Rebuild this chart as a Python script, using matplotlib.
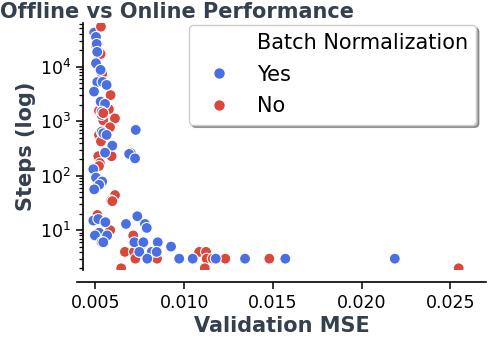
import matplotlib
matplotlib.use("Agg")
import matplotlib.pyplot as plt
from matplotlib.lines import Line2D
import numpy as np

# Batch Normalization = "Yes"
yes_mse = [0.00493, 0.00503, 0.00507, 0.00510, 0.00503, 0.00529, 0.00510, 0.00540,
           0.00563, 0.00492, 0.00529, 0.00554, 0.00535, 0.00535, 0.00727, 0.00535,
           0.00544, 0.00563, 0.00595, 0.00554, 0.00700, 0.00690, 0.00723, 0.00488,
           0.00503, 0.00538, 0.00521, 0.00493, 0.00488, 0.00516, 0.00556, 0.00672,
           0.00736, 0.00779, 0.00789, 0.00521, 0.00497, 0.00566, 0.00535, 0.00544,
           0.00719, 0.00770, 0.00851, 0.00926, 0.00747, 0.00817, 0.00845, 0.00792,
           0.00972, 0.01048, 0.01178, 0.01343, 0.01570, 0.02187]
yes_steps = [42000, 35000, 26000, 18600, 11500, 8700, 5200, 5240,
             4600, 3480, 2280, 2070, 1300, 1490, 690, 642,
             600, 558, 355, 264, 258, 250, 207, 131,
             92, 78, 68, 56, 15, 16, 14, 13,
             18, 13, 11, 9, 8, 8, 6, 6,
             6, 6, 6, 5, 4, 4, 4, 3,
             3, 3, 3, 3, 3, 3]

# Batch Normalization = "No"
no_mse = [0.00531, 0.00503, 0.00529, 0.00538, 0.00585, 0.00576, 0.00520, 0.00610,
          0.00544, 0.00582, 0.00520, 0.00531, 0.00516, 0.00591, 0.00525, 0.00520,
          0.00610, 0.00589, 0.00595, 0.00511, 0.00583, 0.00713, 0.00751, 0.00666,
          0.00717, 0.01085, 0.01123, 0.00725, 0.00847, 0.01127, 0.01161, 0.01232,
          0.01480, 0.00645, 0.01116, 0.02547, 0.00544]
no_steps = [54000, 24000, 17000, 7300, 3000, 1650, 1550, 1120,
            1030, 770, 560, 425, 227, 227, 170, 150,
            44, 35, 34, 19, 10, 8, 5, 4,
            4, 4, 4, 3, 3, 3, 3, 3,
            3, 2, 2, 2, 1400]

labels = ["Yes", "No"]
colors = {"Yes": "#4a6fe3", "No": "#d9483b"}
title_color = "#35404f"

fig = plt.figure(figsize=(5, 3.5), dpi=100)
ax = fig.add_axes([77/500, 1 - 270/350, (486-77)/500, (270-23)/350])

# interleave draw order so colors overlap naturally
xs, ys, cs = [], [], []
n = max(len(yes_mse), len(no_mse))
for i in range(n):
    if i < len(yes_mse):
        xs.append(yes_mse[i]); ys.append(yes_steps[i]); cs.append(colors["Yes"])
    if i < len(no_mse):
        xs.append(no_mse[i]); ys.append(no_steps[i]); cs.append(colors["No"])

ax.scatter(xs, ys, c=cs, s=62, edgecolors="white", linewidths=0.8, zorder=3)

ax.set_yscale("log")
ax.set_xlim(0.00396, 0.02701)
ax.set_ylim(1.86, 6.3e4)
ax.set_xticks([0.005, 0.010, 0.015, 0.020, 0.025])
ax.set_xticklabels(["0.005", "0.010", "0.015", "0.020", "0.025"])

for s in ["top", "right"]:
    ax.spines[s].set_visible(False)
ax.spines["bottom"].set_position(("outward", 8.6))
ax.spines["left"].set_position(("axes", 6/409))
for s in ["bottom", "left"]:
    ax.spines[s].set_linewidth(1.2)
    ax.spines[s].set_color("black")

ax.tick_params(axis="both", which="major", labelsize=12.5, length=5, width=1.1, colors="black")
ax.tick_params(axis="y", which="minor", length=3, width=0.9)

ax.set_xlabel("Validation MSE", fontsize=15, fontweight="bold", color=title_color, labelpad=3)
ax.set_ylabel("Steps (log)", fontsize=15, fontweight="bold", color=title_color, labelpad=3)

fig.text(0.0, 0.995, "Offline vs Online Performance", fontsize=15, fontweight="bold",
         color=title_color, ha="left", va="top")

handles = [Line2D([], [], linestyle="none", marker=None),
           Line2D([], [], linestyle="none", marker="o", markersize=8.5,
                  markerfacecolor=colors["Yes"], markeredgecolor="white"),
           Line2D([], [], linestyle="none", marker="o", markersize=8.5,
                  markerfacecolor=colors["No"], markeredgecolor="white")]
leg = ax.legend(handles, ["Batch Normalization"] + labels, loc="upper right",
                bbox_to_anchor=(476/500, 1 - 25/350), bbox_transform=fig.transFigure,
                borderaxespad=0, fontsize=15, frameon=True, shadow=True, fancybox=True,
                handletextpad=0.75, labelspacing=0.55, borderpad=0.4, handlelength=2.1)
leg.get_frame().set_edgecolor("#cccccc")

fig.savefig("out.png", dpi=100)
